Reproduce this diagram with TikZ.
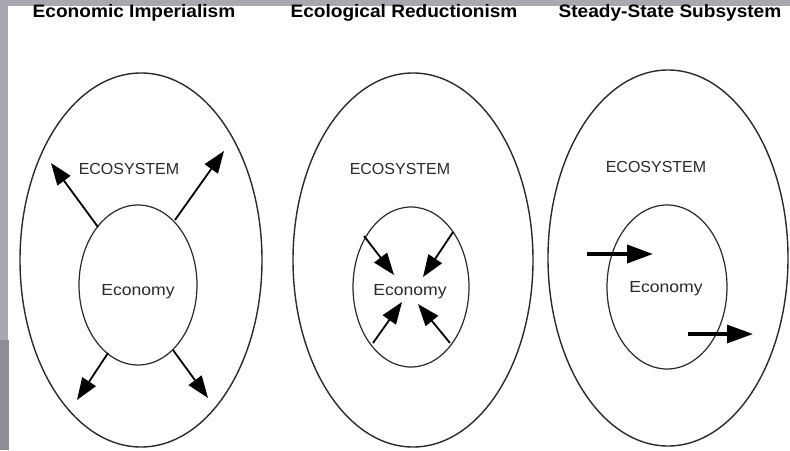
\documentclass[tikz,border=0pt]{standalone}
\usepackage{fontspec}
\setmainfont{Liberation Sans}
\newfontfamily\titlefont[FakeStretch=1.06]{Liberation Sans}
\newfontfamily\econfont[FakeStretch=1.1]{Liberation Sans}
\usetikzlibrary{arrows.meta,shapes.geometric}
\definecolor{framegray}{HTML}{A9A7B0}
\definecolor{framedark}{HTML}{8E8C94}
\definecolor{inkgray}{HTML}{2A2A2A}
\tikzset{
  outerell/.style={draw=inkgray, line width=1.4pt, ellipse, inner sep=0pt, outer sep=0pt},
  innerell/.style={draw=inkgray, line width=1.2pt, ellipse, inner sep=0pt, outer sep=0pt},
  titletext/.style={font=\titlefont\fontsize{18}{20}\selectfont\bfseries, text=black},
  ecotext/.style={font=\fontsize{16}{18}\selectfont, text=inkgray},
  econtext/.style={font=\econfont\fontsize{16}{18}\selectfont, text=inkgray},
  arr/.style={line width=1.8pt, -{Triangle[length=22pt,width=16pt]}},
  fatarr/.style={line width=3.8pt, -{Triangle[length=26pt,width=18pt]}}
}
\begin{document}
\begin{tikzpicture}[x=1pt,y=-1pt]
\useasboundingbox (0,0) rectangle (790,450);
\fill[white] (0,0) rectangle (790,450);
% frame
\fill[framegray] (0,0) rectangle (790,6);
\fill[framegray] (0,0) rectangle (8,340);
\fill[framedark] (0,340) rectangle (9,450);

% titles
\node[titletext] (t1) at (134,13) {Economic Imperialism};
\node[titletext] (t2) at (404,13) {Ecological Reductionism};
\node[titletext] (t3) at (670,13) {Steady-State Subsystem};

% outer ellipses
\node[outerell, minimum width=242pt, minimum height=374pt] (o1) at (141,260) {};
\node[outerell, minimum width=240pt, minimum height=374pt] (o2) at (413,260) {};
\node[outerell, minimum width=240pt, minimum height=376pt] (o3) at (668,258) {};

% inner ellipses
\node[innerell, minimum width=118pt, minimum height=160pt] (i1) at (138,285) {};
\node[innerell, minimum width=116pt, minimum height=160pt] (i2) at (411,287) {};
\node[innerell, minimum width=120pt, minimum height=164pt] (i3) at (667,287) {};

% labels
\node[ecotext] (e1) at (129,169) {ECOSYSTEM};
\node[ecotext] (e2) at (400,169) {ECOSYSTEM};
\node[ecotext] (e3) at (656,167) {ECOSYSTEM};
\node[econtext] (n1) at (138,292) {Economy};
\node[econtext] (n2) at (410,292) {Economy};
\node[econtext] (n3) at (666,289) {Economy};

% panel 1 arrows (outward)
\coordinate (a1s) at (98,227);  \coordinate (a1e) at (51,163);
\coordinate (a2s) at (175,220); \coordinate (a2e) at (224,151);
\coordinate (a3s) at (108,353); \coordinate (a3e) at (77,400);
\coordinate (a4s) at (173,350); \coordinate (a4e) at (208,398);
\draw[arr] (a1s) -- (a1e);
\draw[arr] (a2s) -- (a2e);
\draw[arr] (a3s) -- (a3e);
\draw[arr] (a4s) -- (a4e);

% panel 2 arrows (inward)
\coordinate (b1s) at (364,236); \coordinate (b1e) at (394,275);
\coordinate (b2s) at (453,232); \coordinate (b2e) at (423,277);
\coordinate (b3s) at (373,343); \coordinate (b3e) at (402,302);
\coordinate (b4s) at (450,343); \coordinate (b4e) at (418,304);
\draw[arr] (b1s) -- (b1e);
\draw[arr] (b2s) -- (b2e);
\draw[arr] (b3s) -- (b3e);
\draw[arr] (b4s) -- (b4e);

% panel 3 arrows (throughput)
\coordinate (c1s) at (587,254); \coordinate (c1e) at (653,254);
\coordinate (c2s) at (688,334); \coordinate (c2e) at (753,334);
\draw[fatarr] (c1s) -- (c1e);
\draw[fatarr, line width=3.2pt] (c2s) -- (c2e);
\end{tikzpicture}
\end{document}
